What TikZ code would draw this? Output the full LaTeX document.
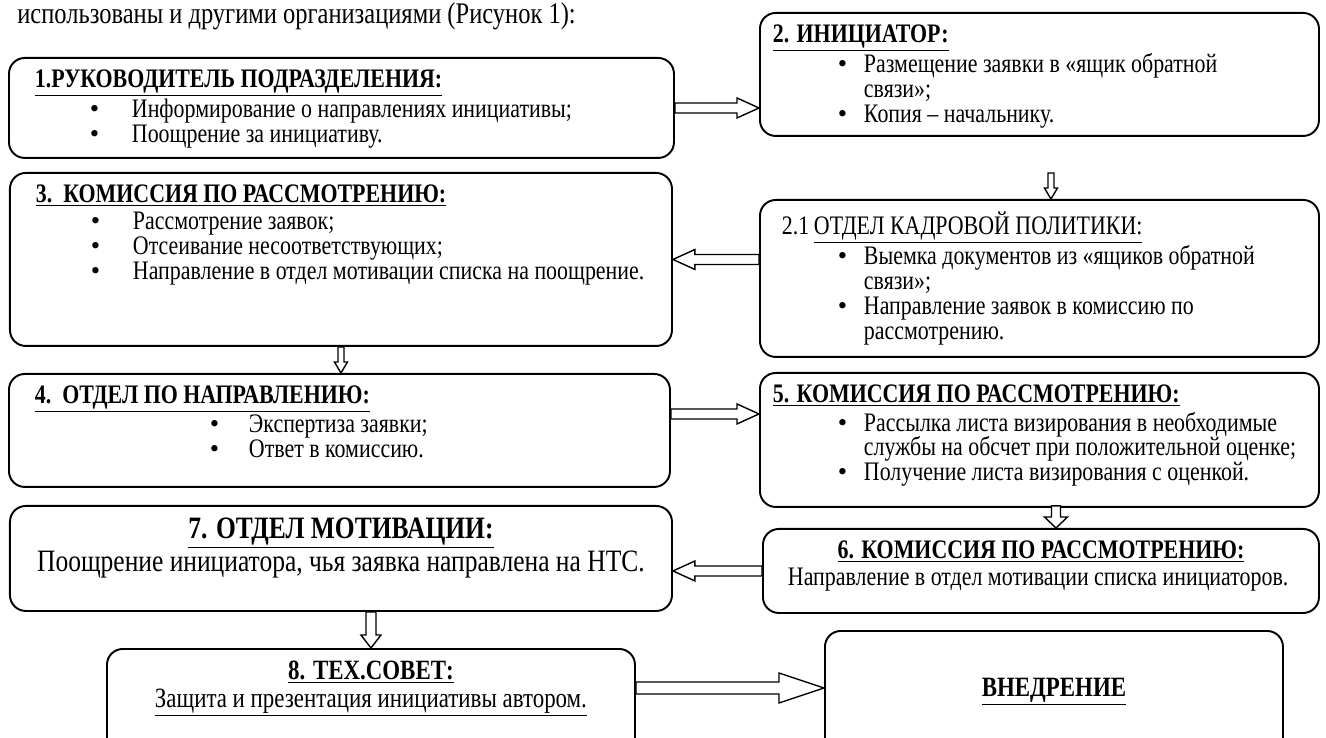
\documentclass[tikz,border=0pt]{standalone}
\usepackage{fontspec}
\setmainfont{Liberation Serif}[FakeStretch=0.82]
\newfontfamily\dotfont{Liberation Serif}
\usetikzlibrary{calc}
\newcommand{\stagetext}[3]{\parbox[c][#2][t]{#1}{\vspace*{0.24cm}#3}}
\newcommand{\bulletline}[3]{\par\hangindent=#2\hangafter=1\noindent\hspace*{#1}\makebox[\dimexpr#2-#1\relax][l]{\dotfont\textbullet}#3}
\tikzset{
stage/.style={draw, line width=1.1pt, rounded corners=9pt, inner sep=0pt, anchor=north west}, % box of one stage
arrw/.store in=\arrw, arrh/.store in=\arrh, arrl/.store in=\arrl, % half width of shaft and head, length of head
arrw=0.1cm, arrh=0.2cm, arrl=0.44cm,
hollow/.style={to path={let \p1=(\tikztostart), \p2=(\tikztotarget),
    \n1={atan2(\y2-\y1,\x2-\x1)}, \n2={veclen(\x2-\x1,\y2-\y1)} in
    {[shift={(\p1)}, rotate=\n1] (0,-\arrw) -- ({\n2-\arrl},-\arrw) -- ({\n2-\arrl},-\arrh) -- (\n2,0)
     -- ({\n2-\arrl},\arrh) -- ({\n2-\arrl},\arrw) -- (0,\arrw) -- cycle}}}, % outlined block arrow
}
\begin{document}
\begin{tikzpicture}[font=\fontsize{15.2}{14.2}\selectfont]
\useasboundingbox (0,0) rectangle (26.52,-14.76);
\node[anchor=base west, inner sep=0pt] (CAP) at (0.34,-0.47) {\fontsize{17}{16}\selectfont использованы и другими организациями (Рисунок 1):};

\node[stage] (LEAD) at (0.16,-1.14) {\stagetext{13.3cm}{2.0cm}{\hspace*{0.52cm}\underline{\textbf{1.РУКОВОДИТЕЛЬ ПОДРАЗДЕЛЕНИЯ:}}\strut
  \bulletline{1.62cm}{2.46cm}{Информирование о направлениях инициативы;}
  \bulletline{1.62cm}{2.46cm}{Поощрение за инициативу.}}};
\node[stage] (INIT) at (15.18,-0.24) {\stagetext{11.18cm}{2.46cm}{\hspace*{0.26cm}\underline{\textbf{2. ИНИЦИАТОР:}}\strut
  \bulletline{1.56cm}{2.08cm}{Размещение заявки в «ящик обратной\newline связи»;}
  \bulletline{1.56cm}{2.08cm}{Копия – начальнику.}}};
\node[stage] (HR) at (15.18,-3.98) {\stagetext{11.18cm}{3.14cm}{\hspace*{0.44cm}\makebox[0.64cm][l]{2.1}\underline{ОТДЕЛ КАДРОВОЙ ПОЛИТИКИ:}\strut
  \bulletline{1.56cm}{2.08cm}{Выемка документов из «ящиков обратной\newline связи»;}
  \bulletline{1.56cm}{2.08cm}{Направление заявок в комиссию по\newline рассмотрению.}}};
\node[stage] (REV) at (0.18,-3.44) {\stagetext{13.24cm}{3.46cm}{\hspace*{0.52cm}\underline{\textbf{3.\ \ КОМИССИЯ ПО РАССМОТРЕНИЮ:}}\strut
  \bulletline{1.62cm}{2.46cm}{Рассмотрение заявок;}
  \bulletline{1.62cm}{2.46cm}{Отсеивание несоответствующих;}
  \bulletline{1.62cm}{2.46cm}{Направление в отдел мотивации списка на поощрение.}}};
\node[stage] (DEPT) at (0.16,-7.46) {\stagetext{13.22cm}{2.26cm}{\hspace*{0.52cm}\underline{\textbf{4.\ \ ОТДЕЛ ПО НАПРАВЛЕНИЮ:}}\strut
  \bulletline{4.02cm}{4.8cm}{Экспертиза заявки;}
  \bulletline{4.02cm}{4.8cm}{Ответ в комиссию.}}};
\node[stage] (VISA) at (15.18,-7.44) {\stagetext{11.18cm}{2.68cm}{\hspace*{0.26cm}\underline{\textbf{5. КОМИССИЯ ПО РАССМОТРЕНИЮ:}}\strut
  \bulletline{1.56cm}{2.08cm}{Рассылка листа визирования в необходимые\newline службы на обсчет при положительной оценке;}
  \bulletline{1.56cm}{2.08cm}{Получение листа визирования с оценкой.}}};
\node[stage] (LIST) at (15.24,-10.56) {\stagetext{11.12cm}{1.68cm}{{\centering\underline{\textbf{6. КОМИССИЯ ПО РАССМОТРЕНИЮ:}}\strut\par}
  \hspace*{0.5cm}Направление в отдел мотивации списка инициаторов.}};
\node[stage] (MOTIV) at (0.18,-10.1) {\stagetext{13.24cm}{2.1cm}{{\centering\fontsize{17.7}{15}\selectfont
  \underline{\textbf{7. ОТДЕЛ МОТИВАЦИИ:}}\strut\par Поощрение инициатора, чья заявка направлена на НТС.\par}}};
\node[stage] (TECH) at (2.12,-12.96) {\stagetext{10.56cm}{2.4cm}{{\centering\fontsize{15.9}{14.4}\selectfont
  \underline{\textbf{8. ТЕХ.СОВЕТ:}}\strut\par \underline{Защита и презентация инициативы автором.}\par}}};
\node[stage] (IMPL) at (16.48,-12.6) {\stagetext{9.16cm}{2.6cm}{\vspace*{0.7cm}{\centering\fontsize{15.9}{15}\selectfont
  \underline{\textbf{ВНЕДРЕНИЕ}}\strut\par}}};

\coordinate (a22) at ($(HR.north)+(0.23,0.52)$);
\coordinate (a45) at ($(DEPT.east)+(0,0.33)$);
\coordinate (a56) at ($(VISA.south)+(0.33,0.04)$);
\coordinate (a8) at ($(TECH.north east)+(0,-0.8)$);

\draw[line width=0.8pt, fill=white]
  (LEAD.east) to[hollow] (LEAD.east -| INIT.west)
  (a22) to[hollow, arrw=0.06cm, arrh=0.13cm, arrl=0.22cm] (a22 |- HR.north)
  (HR.west |- REV.east) to[hollow] (REV.east)
  (REV.south) to[hollow, arrw=0.06cm, arrh=0.13cm, arrl=0.22cm] (REV.south |- DEPT.north)
  (a45) to[hollow] (a45 -| VISA.west)
  (a56) to[hollow, arrw=0.09cm, arrh=0.23cm, arrl=0.22cm] (a56 |- LIST.north)
  (LIST.west) to[hollow] (LIST.west -| MOTIV.east)
  (MOTIV.south -| TECH.north) to[hollow, arrw=0.1cm, arrh=0.2cm, arrl=0.26cm] (TECH.north)
  (a8) to[hollow, arrw=0.12cm, arrh=0.3cm, arrl=0.9cm] (a8 -| IMPL.west);
\end{tikzpicture}
\end{document}
